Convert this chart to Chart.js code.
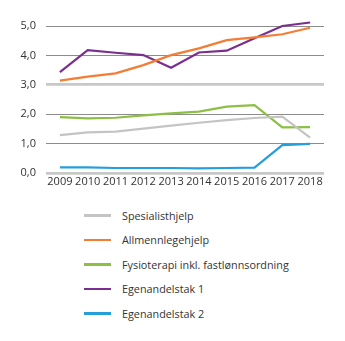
<!DOCTYPE html>
<html>
<head>
    <title>Egenbetaling</title>
    <script src="https://cdn.jsdelivr.net/npm/chart.js"></script>
    <style>
        body { margin: 0; background: #fff; font-family: 'Open Sans', sans-serif; }
        #wrap { position: relative; width: 345px; height: 192px; }
        #legend { list-style: none; margin: 0; padding: 11px 0 0 84px; }
        #legend li { height: 24.5px; display: flex; align-items: center; font-size: 10.8px; color: #333; }
        #legend span.sw { display: inline-block; width: 27px; height: 2.5px; margin-right: 11px; }
    </style>
</head>
<body>
    <div id="wrap"><canvas id="chart"></canvas></div>
    <ul id="legend"></ul>

    <script>
        const years = ['2009', '2010', '2011', '2012', '2013', '2014', '2015', '2016', '2017', '2018'];
        const spesialisthjelp = [1.29, 1.38, 1.41, 1.51, 1.61, 1.71, 1.80, 1.87, 1.92, 1.20];
        const allmennlegehjelp = [3.14, 3.28, 3.39, 3.67, 4.01, 4.24, 4.52, 4.61, 4.72, 4.94];
        const fysioterapi = [1.90, 1.86, 1.88, 1.96, 2.03, 2.09, 2.26, 2.31, 1.55, 1.56];
        const egenandelstak1 = [3.43, 4.18, 4.09, 4.01, 3.58, 4.10, 4.16, 4.58, 5.00, 5.12];
        const egenandelstak2 = [0.19, 0.19, 0.17, 0.17, 0.17, 0.16, 0.17, 0.18, 0.95, 0.99];

        const series = [
            { label: 'Spesialisthjelp', data: spesialisthjelp, color: '#c4c4c4' },
            { label: 'Allmennlegehjelp', data: allmennlegehjelp, color: '#f47c33' },
            { label: 'Fysioterapi inkl. fastlønnsordning', data: fysioterapi, color: '#8dbf45' },
            { label: 'Egenandelstak 1', data: egenandelstak1, color: '#7a2f90' },
            { label: 'Egenandelstak 2', data: egenandelstak2, color: '#259fdc' }
        ];

        const ctx = document.getElementById('chart').getContext('2d');
        const chart = new Chart(ctx, {
            type: 'line',
            data: {
                labels: years,
                datasets: series.map(s => ({
                    label: s.label,
                    data: s.data,
                    borderColor: s.color,
                    backgroundColor: s.color,
                    borderWidth: 2.2,
                    pointRadius: 0,
                    tension: 0,
                    clip: false
                }))
            },
            options: {
                responsive: true,
                maintainAspectRatio: false,
                animation: false,
                layout: { padding: { top: 26, right: 21, left: 0, bottom: 0 } },
                plugins: {
                    legend: { display: false },
                    tooltip: { enabled: false }
                },
                scales: {
                    x: {
                        offset: true,
                        grid: { display: false, drawTicks: false },
                        border: { display: false },
                        ticks: {
                            autoSkip: false,
                            maxRotation: 0,
                            padding: 2,
                            color: '#333',
                            font: { family: 'Open Sans', size: 11 }
                        },
                        afterFit: axis => { axis.height = 19; }
                    },
                    y: {
                        min: 0,
                        max: 5,
                        border: { display: false },
                        grid: {
                            drawTicks: false,
                            color: c => (c.tick && (c.tick.value === 0 || c.tick.value === 3)) ? '#c8c8c8' : '#8c8c8c',
                            lineWidth: c => (c.tick && (c.tick.value === 0 || c.tick.value === 3)) ? 2.8 : 1
                        },
                        ticks: {
                            stepSize: 1,
                            padding: 10,
                            color: '#333',
                            font: { family: 'Open Sans', size: 11 },
                            callback: v => v.toFixed(1).replace('.', ',')
                        },
                        afterFit: axis => { axis.width = 46; }
                    }
                }
            }
        });

        // legend i egen liste under figuren
        const legend = document.getElementById('legend');
        chart.data.datasets.forEach(ds => {
            const li = document.createElement('li');
            li.innerHTML = '<span class="sw" style="background:' + ds.borderColor + '"></span>' + ds.label;
            legend.appendChild(li);
        });
    </script>
</body>
</html>
